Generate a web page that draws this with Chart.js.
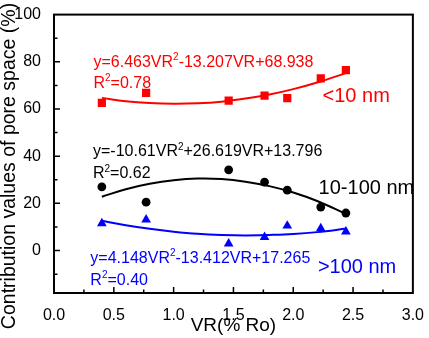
<!DOCTYPE html>
<html>
<head>
<meta charset="utf-8">
<script src="https://cdn.jsdelivr.net/npm/chart.js@4.4.1/dist/chart.umd.min.js"></script>
<style>
  html, body { margin: 0; padding: 0; background: #fff; }
  #chart { display: block; }
</style>
</head>
<body>
<canvas id="chart" width="429" height="338"></canvas>
<script>
const vr = [0.40, 0.77, 1.46, 1.76, 1.95, 2.23, 2.44]
const smallPores = [62.6, 66.8, 63.5, 65.7, 64.6, 73.0, 76.5]
const midPores = [27.0, 20.5, 34.2, 29.0, 25.6, 18.4, 15.9]
const largePores = [11.5, 13.1, 2.9, 5.7, 10.5, 9.4, 8.0]

const fitVr = [0.4, 0.6, 0.8, 1.0, 1.2, 1.4, 1.6, 1.8, 2.0, 2.2, 2.45]
const smallFit = [64.7, 63.3, 62.5, 62.2, 62.4, 63.1, 64.4, 66.1, 68.4, 71.2, 75.4]
const midFit = [22.8, 26.0, 28.3, 29.8, 30.5, 30.3, 29.2, 27.3, 24.6, 21.0, 15.3]
const largeFit = [12.6, 10.7, 9.2, 8.0, 7.1, 6.6, 6.4, 6.6, 7.0, 7.8, 9.3]

const xTicks = [0, 0.5, 1.0, 1.5, 2.0, 2.5, 3.0]
const yTicks = [0, 20, 40, 60, 80, 100]

const xTitle = 'VR(% Ro)'
const yTitle = 'Contribution values of pore space (%)'

const RED = '#ff0000'
const BLUE = '#0000ff'
const BLACK = '#000000'
const FONT = '"Liberation Sans", Arial, sans-serif'

// text labels, anchored at data coordinates (left edge, baseline)
const notes = [
  { x: 0.33, y: 78.0, color: RED, size: 16, parts: ['y=6.463VR', '^2', '-13.207VR+68.938'] },
  { x: 0.33, y: 69.0, color: RED, size: 16, parts: ['R', '^2', '=0.78'] },
  { x: 2.245, y: 62.8, color: RED, size: 20, parts: ['<10 nm'] },
  { x: 0.326, y: 39.9, color: BLACK, size: 16, parts: ['y=-10.61VR', '^2', '+26.619VR+13.796'] },
  { x: 0.326, y: 30.6, color: BLACK, size: 16, parts: ['R', '^2', '=0.62'] },
  { x: 2.212, y: 23.9, color: BLACK, size: 20, parts: ['10-100 nm'] },
  { x: 0.304, y: -5.25, color: BLUE, size: 16, parts: ['y=4.148VR', '^2', '-13.412VR+17.265'] },
  { x: 0.304, y: -14.7, color: BLUE, size: 16, parts: ['R', '^2', '=0.40'] },
  { x: 2.206, y: -9.7, color: BLUE, size: 20, parts: ['>100 nm'] },
]

const pairs = (xs, ys) => xs.map((x, i) => ({ x, y: ys[i] }))

const framePlugin = {
  id: 'frame',
  afterDraw(chart) {
    const { ctx, chartArea: a, scales: { x, y } } = chart
    ctx.save()
    ctx.strokeStyle = BLACK
    ctx.lineWidth = 2
    ctx.strokeRect(a.left, a.top, a.right - a.left, a.bottom - a.top)

    ctx.lineWidth = 1.5
    ctx.beginPath()
    for (let i = 1; i < 12; i++) {
      const px = x.getPixelForValue(i * 0.25)
      const len = i % 2 === 0 ? 6 : 3.5
      ctx.moveTo(px, a.bottom)
      ctx.lineTo(px, a.bottom - len)
    }
    for (let v = -10; v < 100; v += 10) {
      const py = y.getPixelForValue(v)
      const len = v % 20 === 0 ? 6 : 3.5
      ctx.moveTo(a.left, py)
      ctx.lineTo(a.left + len, py)
    }
    ctx.stroke()

    ctx.fillStyle = BLACK
    ctx.font = '19.5px ' + FONT
    ctx.textAlign = 'center'
    ctx.textBaseline = 'alphabetic'
    ctx.translate(15.3, 166)
    ctx.rotate(-Math.PI / 2)
    ctx.fillText(yTitle, 0, 0)
    ctx.restore()
  }
}

const notesPlugin = {
  id: 'notes',
  afterDatasetsDraw(chart) {
    const { ctx, scales: { x, y } } = chart
    ctx.save()
    ctx.textBaseline = 'alphabetic'
    ctx.textAlign = 'left'
    notes.forEach(n => {
      let px = x.getPixelForValue(n.x)
      const py = y.getPixelForValue(n.y)
      ctx.fillStyle = n.color
      n.parts.forEach(p => {
        if (p.startsWith('^')) {
          ctx.font = Math.round(n.size * 0.62) + 'px ' + FONT
          ctx.fillText(p.slice(1), px, py - n.size * 0.42)
          px += ctx.measureText(p.slice(1)).width
        } else {
          ctx.font = n.size + 'px ' + FONT
          ctx.fillText(p, px, py)
          px += ctx.measureText(p).width
        }
      })
    })
    ctx.restore()
  }
}

function fitLine(data, color) {
  return {
    type: 'line',
    data: data,
    borderColor: color,
    borderWidth: 2,
    pointRadius: 0,
    tension: 0.4,
    fill: false,
  }
}

function markers(data, color, style, radius) {
  return {
    type: 'scatter',
    data: data,
    backgroundColor: color,
    borderColor: color,
    borderWidth: 0,
    pointStyle: style,
    pointRadius: radius,
    showLine: false,
  }
}

new Chart(document.getElementById('chart'), {
  type: 'scatter',
  data: {
    datasets: [
      fitLine(pairs(fitVr, smallFit), RED),
      fitLine(pairs(fitVr, midFit), BLACK),
      fitLine(pairs(fitVr, largeFit), BLUE),
      markers(pairs(vr, smallPores), RED, 'rect', 5.8),
      markers(pairs(vr, midPores), BLACK, 'circle', 4.4),
      markers(pairs(vr, largePores), BLUE, 'triangle', 5.6),
    ]
  },
  options: {
    responsive: false,
    animation: false,
    devicePixelRatio: 1,
    layout: { padding: { top: 10, right: 13, left: 0, bottom: 0 } },
    plugins: {
      legend: { display: false },
      tooltip: { enabled: false },
    },
    scales: {
      x: {
        type: 'linear',
        min: 0,
        max: 3,
        afterBuildTicks: s => { s.ticks = xTicks.map(v => ({ value: v })) },
        afterFit: s => { s.height = 45 },
        grid: { display: false },
        border: { display: false },
        ticks: {
          color: BLACK,
          padding: 5,
          font: { family: FONT, size: 16 },
          callback: v => v.toFixed(1),
        },
        title: {
          display: true,
          text: xTitle,
          color: BLACK,
          font: { family: FONT, size: 19, lineHeight: 1 },
          padding: { top: 0, bottom: 3 },
        },
      },
      y: {
        type: 'linear',
        min: -18,
        max: 100,
        afterBuildTicks: s => { s.ticks = yTicks.map(v => ({ value: v })) },
        afterFit: s => { s.width = 54 },
        grid: { display: false },
        border: { display: false },
        ticks: {
          color: BLACK,
          padding: 5,
          font: { family: FONT, size: 16 },
        },
      },
    },
  },
  plugins: [framePlugin, notesPlugin],
})
</script>
</body>
</html>
